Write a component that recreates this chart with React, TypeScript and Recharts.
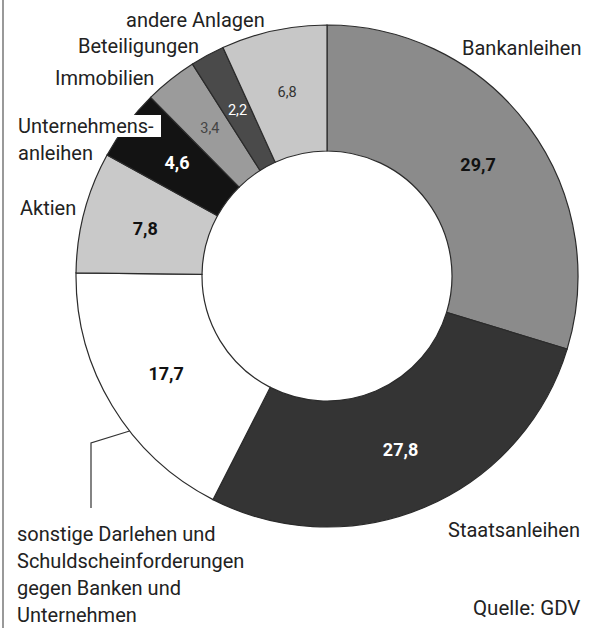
import { PieChart, Pie, Cell } from "recharts";

// Kapitalanlagen der Versicherer, Anteile in Prozent
const categories = [
  "Bankanleihen",
  "Staatsanleihen",
  "sonstige Darlehen und Schuldscheinforderungen gegen Banken und Unternehmen",
  "Aktien",
  "Unternehmensanleihen",
  "Immobilien",
  "Beteiligungen",
  "andere Anlagen",
];
const shares = [29.7, 27.8, 17.7, 7.8, 4.6, 3.4, 2.2, 6.8];
const valueLabels = ["29,7", "27,8", "17,7", "7,8", "4,6", "3,4", "2,2", "6,8"];

const fills = ["#8b8b8b", "#343434", "#ffffff", "#c9c9c9", "#131313", "#9b9b9b", "#4a4a4a", "#c7c7c7"];
const valueColors = ["#111", "#fff", "#111", "#111", "#fff", "#444", "#fff", "#333"];
const valueBold = [true, true, true, true, true, false, false, false];

const FONT = "Roboto, 'Noto Sans', sans-serif";

// where the category names sit (label layout, not data)
const nameLayout: { x: number; y: number; lines: string[]; box?: boolean }[] = [
  { x: 462, y: 55, lines: ["Bankanleihen"] },
  { x: 448, y: 537, lines: ["Staatsanleihen"] },
  {
    x: 17,
    y: 541,
    lines: ["sonstige Darlehen und", "Schuldscheinforderungen", "gegen Banken und", "Unternehmen"],
  },
  { x: 20, y: 215, lines: ["Aktien"] },
  { x: 18, y: 133, lines: ["Unternehmens-", "anleihen"], box: true },
  { x: 55, y: 85, lines: ["Immobilien"] },
  { x: 78, y: 53, lines: ["Beteiligungen"] },
  { x: 126, y: 27, lines: ["andere Anlagen"] },
];

const data = categories.map((name, i) => ({ name, value: shares[i] }));
const RAD = Math.PI / 180;

// eslint-disable-next-line @typescript-eslint/no-explicit-any
const renderLabel = (props: any) => {
  const { cx, cy, midAngle, innerRadius, outerRadius, index } = props;
  const r = (innerRadius + outerRadius) / 2;
  const x = cx + r * Math.cos(-midAngle * RAD);
  const y = cy + r * Math.sin(-midAngle * RAD);
  const lay = nameLayout[index];
  const bold = valueBold[index];

  let leader = null;
  if (index === 2) {
    const a = (midAngle + 7) * RAD;
    const sx = cx + outerRadius * Math.cos(-a);
    const sy = cy + outerRadius * Math.sin(-a);
    leader = (
      <polyline
        points={`${sx},${sy} 91,443 91,508`}
        fill="none"
        stroke="#333"
        strokeWidth={1.2}
      />
    );
  }

  return (
    <g key={`lbl-${index}`}>
      <text
        x={x}
        y={y}
        textAnchor="middle"
        dominantBaseline="central"
        fill={valueColors[index]}
        fontFamily={FONT}
        fontSize={bold ? 18 : 14.5}
        fontWeight={bold ? 700 : 400}
      >
        {valueLabels[index]}
      </text>
      {leader}
      {lay.box && <rect x={lay.x - 2} y={lay.y - 18} width={145} height={22} fill="#fff" />}
      {lay.lines.map((line, j) => (
        <text
          key={j}
          x={lay.x}
          y={lay.y + j * 27}
          fill="#222"
          fontFamily={FONT}
          fontSize={20}
        >
          {line}
        </text>
      ))}
    </g>
  );
};

export default function App() {
  return (
    <div style={{ position: "absolute", left: 0, top: 0, width: 592, height: 628, background: "#fff" }}>
      <PieChart width={592} height={628} margin={{ top: 0, right: 0, bottom: 0, left: 0 }}>
        <line x1={3} y1={0} x2={3} y2={628} stroke="#777" strokeWidth={1.5} />
        <Pie
          data={data}
          dataKey="value"
          nameKey="name"
          cx={327}
          cy={276}
          innerRadius={125}
          outerRadius={251}
          startAngle={90}
          endAngle={-270}
          stroke="#2b2b2b"
          strokeWidth={1.2}
          label={renderLabel}
          labelLine={false}
          isAnimationActive={false}
        >
          {data.map((d, i) => (
            <Cell key={d.name} fill={fills[i]} />
          ))}
        </Pie>
        <text x={473} y={615} fill="#222" fontFamily={FONT} fontSize={20.5}>
          Quelle: GDV
        </text>
      </PieChart>
    </div>
  );
}
